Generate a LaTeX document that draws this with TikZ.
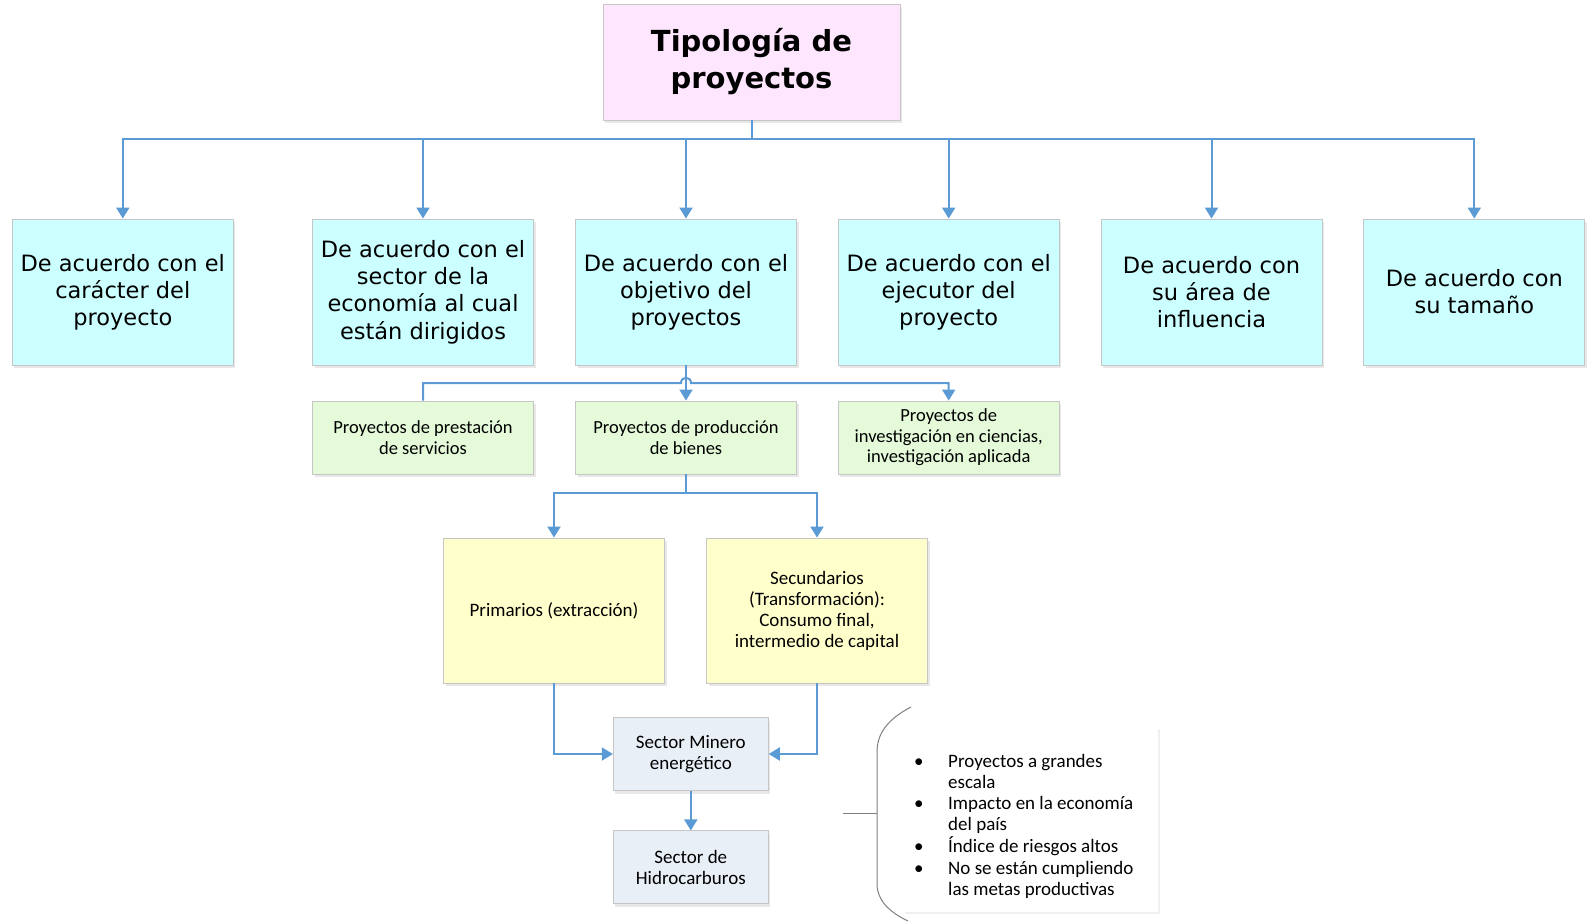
\documentclass[tikz,border=0pt]{standalone}
\usepackage{fontspec}
\setmainfont{Carlito}
\newfontfamily\tah{DejaVu Sans}
\usetikzlibrary{arrows.meta,shadows}
\definecolor{conn}{HTML}{5B9BD5}
\definecolor{bord}{HTML}{C6C6C6}
\definecolor{titlefill}{HTML}{FFE6FF}
\definecolor{cyanfill}{HTML}{CCFFFF}
\definecolor{greenfill}{HTML}{E4FAD9}
\definecolor{yelfill}{HTML}{FFFFCC}
\definecolor{secfill}{HTML}{E9EFF7}
\definecolor{bracecol}{HTML}{7F7F7F}
\begin{document}
\begin{tikzpicture}[x=1pt,y=-1pt,
  box/.style={draw=bord, line width=0.9pt, align=center, inner sep=0pt,
    drop shadow={shadow xshift=2pt,shadow yshift=-3pt,opacity=0.18,fill=gray}},
  titlebox/.style={box, fill=titlefill, minimum width=297pt, minimum height=116pt,
    font=\tah\bfseries\fontsize{29}{37}\selectfont},
  catbox/.style={box, fill=cyanfill, minimum width=221pt, minimum height=146pt,
    font=\tah\fontsize{22.5}{27.2}\selectfont},
  greenbox/.style={box, fill=greenfill, minimum width=221pt, minimum height=73pt,
    font=\fontsize{18.5}{20.5}\selectfont},
  yelbox/.style={box, fill=yelfill, minimum width=221pt, minimum height=145pt,
    font=\fontsize{19}{21}\selectfont},
  secbox/.style={box, fill=secfill, minimum width=155pt, minimum height=73pt,
    font=\fontsize{19}{21}\selectfont},
  notebox/.style={fill=white, minimum width=255pt, minimum height=185pt, inner sep=0pt,
    drop shadow={shadow xshift=2pt,shadow yshift=-2pt,opacity=0.12,fill=gray}},
  arr/.style={draw=conn, line width=2pt, -{Triangle[length=11pt,width=13pt]}},
  bracepath/.style={draw=bracecol, line width=1pt}
]
\useasboundingbox (0,0) rectangle (1591,923);

% title
\node[titlebox] (T) at (751.5,62) {\rule{0pt}{4pt}Tipología de\\proyectos};

% categories
\node[catbox] (B1) at (122.8,292) {De acuerdo con el\\carácter del\\proyecto};
\node[catbox] (B2) at (423,292) {De acuerdo con el\\sector de la\\economía al cual\\están dirigidos};
\node[catbox] (B3) at (686,292) {De acuerdo con el\\objetivo del\\proyectos};
\node[catbox] (B4) at (948.7,292) {De acuerdo con el\\ejecutor del\\proyecto};
\node[catbox] (B5) at (1211.5,292) {De acuerdo con\\su área de\\influencia};
\node[catbox] (B6) at (1474.3,292) {De acuerdo con\\su tamaño};

% green
\node[greenbox] (G1) at (423,437.5) {Proyectos de prestación\\de servicios};
\node[greenbox] (G2) at (686,437.5) {Proyectos de producción\\de bienes};
\node[greenbox] (G3) at (948.7,437.5) {Proyectos de\\investigación en ciencias,\\investigación aplicada};

% yellow
\node[yelbox] (Y1) at (554,610.5) {Primarios (extracción)};
\node[yelbox] (Y2) at (817,610.5) {Secundarios\\(Transformación):\\Consumo final,\\intermedio de capital};

% sectors
\node[secbox] (S1) at (690.8,754) {Sector Minero\\energético};
\node[secbox] (S2) at (690.8,867.4) {Sector de\\Hidrocarburos};

% note
\node[notebox] (N) at (1030.5,819.5) {};
\draw[bracepath] (911,707) .. controls (886,720) and (877,735) .. (877,752)
  -- (877,884) .. controls (877,900) and (889,912) .. (908,921);
\draw[bracepath] (843,813) -- (877,813);
\node[anchor=north west, inner sep=0pt, align=left, font=\fontsize{19}{21.2}\selectfont] (L) at (914,752) {%
\begin{tabular}{@{}p{34pt}@{}l@{}}
•& Proyectos a grandes\\
 & escala\\
•& Impacto en la economía\\
 & del país\\
•& Índice de riesgos altos\\
•& No se están cumpliendo\\
 & las metas productivas
\end{tabular}};

% connectors
\foreach \b in {B1,B2,B3,B4,B5,B6}
  \draw[arr] (T.south) -- ++(0,19) -| (\b.north);
\draw[arr] (B3.south) -- (G2.north);
\draw[arr] (G1.north) -- (G1.north |- 0,383) -- (681,383)
  .. controls (681,376) and (691,376) .. (691,383) -| (G3.north);
\draw[arr] (G2.south) -- ++(0,19) -| (Y1.north);
\draw[arr] (G2.south) -- ++(0,19) -| (Y2.north);
\draw[arr] (Y1.south) |- (S1.west);
\draw[arr] (Y2.south) |- (S1.east);
\draw[arr] (S1.south) -- (S2.north);
\end{tikzpicture}
\end{document}
